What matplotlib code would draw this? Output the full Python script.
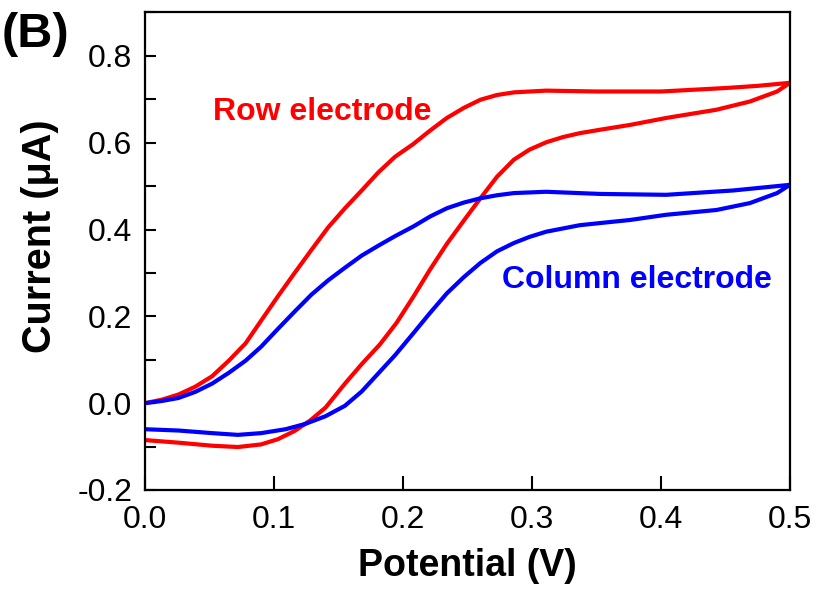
import matplotlib
matplotlib.use("Agg")
import matplotlib.pyplot as plt
from matplotlib.ticker import MultipleLocator

plt.rcParams['font.family'] = ['Liberation Sans', 'DejaVu Sans']

# Row electrode (red): forward sweep 0 -> 0.5 V, then reverse 0.5 -> 0 V
row_fwd_v = [0.0, 0.013, 0.026, 0.039, 0.052, 0.065, 0.078, 0.090, 0.103, 0.116,
             0.129, 0.142, 0.155, 0.168, 0.181, 0.194, 0.208, 0.221, 0.234, 0.247,
             0.260, 0.273, 0.286, 0.311, 0.35, 0.40, 0.45, 0.475, 0.50]
row_fwd_i = [0.0, 0.008, 0.02, 0.038, 0.062, 0.098, 0.138, 0.19, 0.246, 0.30,
             0.353, 0.405, 0.449, 0.49, 0.532, 0.568, 0.597, 0.628, 0.657, 0.680,
             0.699, 0.710, 0.716, 0.720, 0.718, 0.718, 0.726, 0.731, 0.738]
row_rev_v = [0.50, 0.49, 0.469, 0.443, 0.404, 0.376, 0.353, 0.337, 0.324, 0.311,
             0.298, 0.286, 0.273, 0.260, 0.247, 0.234, 0.221, 0.208, 0.195, 0.182,
             0.168, 0.155, 0.140, 0.128, 0.116, 0.103, 0.090, 0.072, 0.052, 0.026, 0.0]
row_rev_i = [0.738, 0.718, 0.695, 0.676, 0.657, 0.641, 0.630, 0.622, 0.613, 0.601,
             0.584, 0.561, 0.522, 0.472, 0.420, 0.367, 0.308, 0.245, 0.185, 0.135,
             0.090, 0.045, -0.010, -0.040, -0.064, -0.083, -0.095, -0.101, -0.098,
             -0.091, -0.085]

# Column electrode (blue)
col_fwd_v = [0.0, 0.013, 0.026, 0.039, 0.052, 0.065, 0.078, 0.090, 0.103, 0.116,
             0.129, 0.142, 0.155, 0.168, 0.181, 0.194, 0.208, 0.221, 0.234, 0.247,
             0.260, 0.273, 0.286, 0.311, 0.353, 0.404, 0.456, 0.50]
col_fwd_i = [0.0, 0.005, 0.012, 0.026, 0.045, 0.07, 0.098, 0.13, 0.171, 0.211,
             0.25, 0.283, 0.312, 0.340, 0.363, 0.385, 0.407, 0.43, 0.449, 0.462,
             0.472, 0.479, 0.484, 0.487, 0.482, 0.480, 0.490, 0.503]
col_rev_v = [0.50, 0.49, 0.469, 0.443, 0.404, 0.376, 0.353, 0.337, 0.311, 0.298,
             0.286, 0.273, 0.260, 0.247, 0.234, 0.221, 0.208, 0.194, 0.181, 0.168,
             0.155, 0.140, 0.124, 0.109, 0.090, 0.072, 0.052, 0.026, 0.0]
col_rev_i = [0.503, 0.484, 0.461, 0.445, 0.434, 0.422, 0.415, 0.410, 0.395, 0.383,
             0.369, 0.350, 0.323, 0.290, 0.253, 0.208, 0.161, 0.111, 0.069, 0.027,
             -0.006, -0.030, -0.048, -0.06, -0.069, -0.073, -0.069, -0.063, -0.06]

fig = plt.figure(figsize=(8.15, 5.92), dpi=100)
ax = fig.add_axes([0.1779, 0.1723, 0.7914, 0.8066])

red = '#ff0000'
blue = '#0000ff'
ax.plot(row_fwd_v + row_rev_v, row_fwd_i + row_rev_i, color=red, lw=3.0,
        solid_joinstyle='round')
ax.plot(col_fwd_v + col_rev_v, col_fwd_i + col_rev_i, color=blue, lw=3.0,
        solid_joinstyle='round')

ax.set_xlim(0, 0.5)
ax.set_ylim(-0.2, 0.9)
ax.yaxis.set_minor_locator(MultipleLocator(0.1))
ax.set_xticks([0.0, 0.1, 0.2, 0.3, 0.4, 0.5])
ax.set_xticklabels(['0.0', '0.1', '0.2', '0.3', '0.4', '0.5'])
ax.set_yticks([-0.2, 0.0, 0.2, 0.4, 0.6, 0.8])
ax.set_yticklabels(['-0.2', '0.0', '0.2', '0.4', '0.6', '0.8'])

ax.tick_params(axis='both', which='both', direction='in', width=1.5,
               labelsize=23, top=False, right=False)
ax.tick_params(axis='x', which='major', length=10, pad=11)
ax.tick_params(axis='y', which='both', length=8, pad=9)
for sp in ax.spines.values():
    sp.set_linewidth(1.6)

ax.set_xlabel('Potential (V)', fontsize=27, fontweight='bold', labelpad=9)
ax.set_ylabel('Current (μA)', fontsize=28.5, fontweight='bold', labelpad=13, y=0.532)

ax.text(0.0527, 0.653, 'Row electrode', color=red, fontsize=23,
        fontweight='bold', va='baseline', ha='left')
ax.text(0.2765, 0.266, 'Column electrode', color=blue, fontsize=23,
        fontweight='bold', va='baseline', ha='left')

# panel letter in the top-left corner
fig.text(0.002, 0.921, '(B)', fontsize=35, fontweight='bold', va='baseline', ha='left')

fig.savefig('out.png', dpi=100)
